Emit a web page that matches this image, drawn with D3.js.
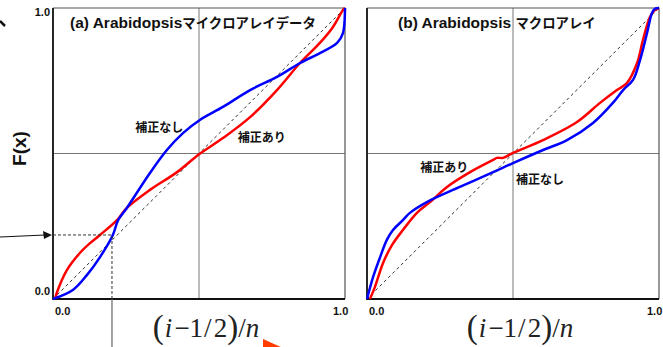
<!DOCTYPE html>
<html>
<head>
<meta charset="utf-8">
<script src="https://cdn.jsdelivr.net/npm/d3@7/dist/d3.min.js"></script>
<style>
  html, body { margin: 0; padding: 0; background: #fff; }
  svg { display: block; }
</style>
</head>
<body>
<svg id="chart" width="663" height="347"></svg>
<script>
// Empirical distribution curves: F(x) against the plotting position (i-1/2)/n
const panelTitlesLatin = ["(a) Arabidopsis", "(b) Arabidopsis "];
const panelTitlesKana = ["マイクロアレイデータ", "マクロアレイ"];
const seriesNames = ["補正なし", "補正あり"];

// (a) microarray data — uncorrected (blue) and corrected (red)
const aRawX = [0, 0.068, 0.116, 0.161, 0.205, 0.223, 0.253, 0.332, 0.39, 0.445, 0.503, 0.582, 0.675, 0.767, 0.846, 0.914, 0.973, 0.993, 1.0, 1.0];
const aRawY = [0, 0.031, 0.082, 0.144, 0.22, 0.271, 0.313, 0.433, 0.512, 0.57, 0.615, 0.66, 0.718, 0.763, 0.811, 0.845, 0.88, 0.914, 0.993, 1.0];
const aCorX = [0.007, 0.014, 0.048, 0.092, 0.127, 0.161, 0.219, 0.253, 0.332, 0.425, 0.497, 0.582, 0.675, 0.767, 0.846, 0.914, 0.959, 0.993, 1.0];
const aCorY = [0, 0.024, 0.1, 0.158, 0.192, 0.22, 0.271, 0.313, 0.375, 0.436, 0.495, 0.553, 0.625, 0.718, 0.811, 0.88, 0.935, 0.993, 1.0];

// (b) macroarray data
const bRawX = [0, 0.021, 0.045, 0.068, 0.089, 0.123, 0.147, 0.205, 0.318, 0.432, 0.5, 0.603, 0.685, 0.774, 0.842, 0.877, 0.911, 0.935, 0.959, 0.976, 0.986, 1.0];
const bRawY = [0, 0.076, 0.144, 0.203, 0.237, 0.271, 0.296, 0.333, 0.385, 0.436, 0.467, 0.512, 0.546, 0.605, 0.674, 0.718, 0.753, 0.821, 0.914, 0.983, 0.997, 1.0];
const bCorX = [0.01, 0.027, 0.055, 0.086, 0.123, 0.171, 0.216, 0.274, 0.353, 0.432, 0.445, 0.466, 0.5, 0.603, 0.719, 0.798, 0.856, 0.89, 0.925, 0.945, 0.969, 0.986, 1.0];
const bCorY = [0, 0.041, 0.124, 0.186, 0.237, 0.296, 0.333, 0.385, 0.436, 0.478, 0.485, 0.485, 0.502, 0.546, 0.608, 0.674, 0.718, 0.742, 0.811, 0.89, 0.969, 0.993, 1.0];

const tickLabels = ["0.0", "1.0"];
// guide point in panel (a): a quantile
const guideA = [0.202, 0.22];

const svg = d3.select("#chart");
const W = 292, H = 291, plotTop = 8;
const panelLeft = [53, 367];

const panels = [
  { raw: [aRawX, aRawY], cor: [aCorX, aCorY],
    labels: [{ t: seriesNames[0], x: 0.282, y: 0.59 }, { t: seriesNames[1], x: 0.633, y: 0.555 }], yTicks: true },
  { raw: [bRawX, bRawY], cor: [bCorX, bCorY],
    labels: [{ t: seriesNames[1], x: 0.182, y: 0.45 }, { t: seriesNames[0], x: 0.51, y: 0.41 }], yTicks: false }
];

const zip = (xs, ys) => xs.map((v, i) => [v, ys[i]]);

panels.forEach((p, k) => {
  const x = d3.scaleLinear().domain([0, 1]).range([panelLeft[k], panelLeft[k] + W]);
  const y = d3.scaleLinear().domain([0, 1]).range([plotTop + H, plotTop]);
  const g = svg.append("g");

  // mid guide lines
  g.append("line").attr("x1", x(0.5)).attr("x2", x(0.5)).attr("y1", y(0)).attr("y2", y(1))
    .attr("stroke", "#777").attr("stroke-width", 1);
  g.append("line").attr("x1", x(0)).attr("x2", x(1)).attr("y1", y(0.5)).attr("y2", y(0.5))
    .attr("stroke", "#777").attr("stroke-width", 1);

  // frame: light top/right, heavy left/bottom
  g.append("path").attr("d", `M${x(0)},${y(1)}H${x(1)}V${y(0)}`)
    .attr("fill", "none").attr("stroke", "#555").attr("stroke-width", 1.2);
  g.append("path").attr("d", `M${x(0)},${y(1)}V${y(0)}H${x(1)}`)
    .attr("fill", "none").attr("stroke", "#111").attr("stroke-width", 1.8);

  // reference diagonal
  g.append("line").attr("x1", x(0)).attr("y1", y(0)).attr("x2", x(1)).attr("y2", y(1))
    .attr("stroke", "#333").attr("stroke-width", 1).attr("stroke-dasharray", "3,3");

  const curve = d3.line().x(d => x(d[0])).y(d => y(d[1])).curve(d3.curveCatmullRom.alpha(0.5));

  g.append("path").attr("d", curve(zip(p.cor[0], p.cor[1])))
    .attr("fill", "none").attr("stroke", "#ff0000").attr("stroke-width", 2.5).attr("stroke-linejoin", "round");
  g.append("path").attr("d", curve(zip(p.raw[0], p.raw[1])))
    .attr("fill", "none").attr("stroke", "#0000ff").attr("stroke-width", 2.5).attr("stroke-linejoin", "round");

  // title: Latin part in Arial-like bold, kana in CJK bold
  const t = g.append("text").attr("x", x(0) + (k === 0 ? 17 : 31)).attr("y", plotTop + 20)
    .attr("font-weight", "bold").attr("fill", "#111");
  t.append("tspan").attr("font-family", "Liberation Sans, Arial, sans-serif").attr("font-size", 15.5)
    .text(panelTitlesLatin[k]);
  t.append("tspan").attr("font-family", "Noto Sans CJK JP, sans-serif").attr("font-size", 13.4)
    .text(panelTitlesKana[k]);

  // series labels
  p.labels.forEach(l => {
    g.append("text").attr("x", x(l.x)).attr("y", y(l.y)).attr("dy", "0.35em")
      .attr("font-family", "Noto Sans CJK JP, sans-serif").attr("font-weight", "bold")
      .attr("font-size", 12).attr("fill", "#111").text(l.t);
  });

  // tick labels
  const tickFont = "Liberation Sans, Arial, sans-serif";
  [0, 1].forEach((v, i) => {
    g.append("text").attr("x", x(v) + (i === 0 ? 2 : -12)).attr("y", y(0) + 16)
      .attr("font-family", tickFont).attr("font-weight", "bold").attr("font-size", 11)
      .attr("fill", "#111").text(tickLabels[i]);
    if (p.yTicks) {
      g.append("text").attr("x", x(0) - 3).attr("y", y(v) + (i === 0 ? -4 : 8))
        .attr("text-anchor", "end")
        .attr("font-family", tickFont).attr("font-weight", "bold").attr("font-size", 11)
        .attr("fill", "#111").text(tickLabels[i]);
    }
  });

  // x-axis formula
  const f = g.append("text").attr("x", x(0.5) + 7).attr("y", 337).attr("text-anchor", "middle")
    .attr("font-family", "Liberation Serif, Times New Roman, serif").attr("font-size", 27).attr("fill", "#222");
  f.append("tspan").attr("font-size", 33).attr("dy", 1).text("(");
  f.append("tspan").attr("font-style", "italic").attr("dy", -1).attr("dx", 1).text("i");
  f.append("tspan").text("\u2212").attr("dx", 2);
  f.append("tspan").text("1");
  f.append("tspan").attr("dx", 1).text("/");
  f.append("tspan").attr("dx", 2).text("2");
  f.append("tspan").attr("font-size", 33).attr("dy", 1).text(")");
  f.append("tspan").attr("dy", -1).text("/");
  f.append("tspan").attr("font-style", "italic").text("n");

  if (k === 0) {
    // quantile guide with arrow pointing at the y axis
    g.append("path").attr("d", `M${x(0)},${y(guideA[1])}H${x(guideA[0])}V${y(0)}`)
      .attr("fill", "none").attr("stroke", "#333").attr("stroke-width", 1).attr("stroke-dasharray", "3,2");
    g.append("line").attr("x1", x(guideA[0])).attr("x2", x(guideA[0])).attr("y1", y(0)).attr("y2", 347)
      .attr("stroke", "#666").attr("stroke-width", 1.2);
    g.append("path").attr("d", `M0,${y(guideA[1]) + 2}L${x(0) - 8},${y(guideA[1])}`)
      .attr("fill", "none").attr("stroke", "#111").attr("stroke-width", 1.2);
    g.append("path").attr("d", `M${x(0) - 1},${y(guideA[1])}l-9,-4l1,8z`).attr("fill", "#111");

    // F(x) axis title
    svg.append("text").attr("transform", `translate(26,${y(0.5) - 5}) rotate(-90)`)
      .attr("text-anchor", "middle").attr("font-family", "Liberation Sans, Arial, sans-serif")
      .attr("font-weight", "bold").attr("font-size", 19).attr("fill", "#111").text("F(x)");
  }
});

// stray marks at the page edges
svg.append("path").attr("d", "M0,21L5,26").attr("stroke", "#111").attr("stroke-width", 2.5);
svg.append("path").attr("d", "M263,339L283,348L263,352Z").attr("fill", "#ff3d00");
</script>
</body>
</html>
